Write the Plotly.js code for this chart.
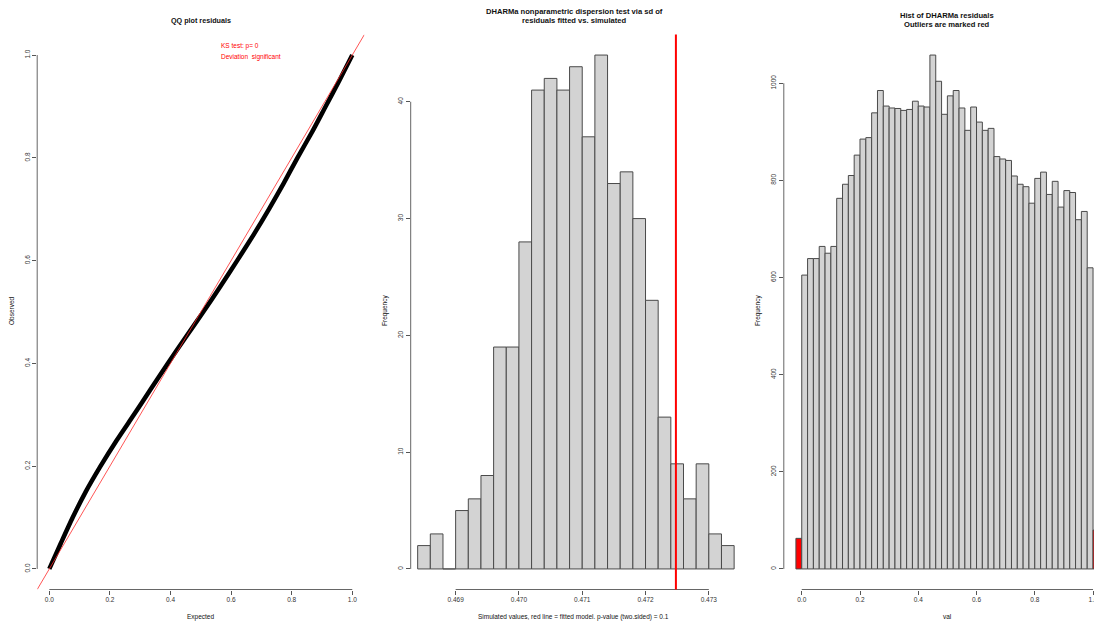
<!DOCTYPE html>
<html>
<head>
<meta charset="utf-8">
<script src="https://cdn.plot.ly/plotly-3.0.1.min.js"></script>
<style>html,body{margin:0;padding:0;background:#fff;}#chart{width:1094px;height:622px;}</style>
</head>
<body>
<div id="chart"></div>
<script>
// ---------- DATA ----------
// Panel 1: QQ plot residuals (expected vs observed uniform quantiles)
const qqExpected = [0, 0.038, 0.077, 0.120, 0.169, 0.222, 0.279, 0.335, 0.391, 0.449, 0.508, 0.565, 0.620, 0.674, 0.725, 0.773, 0.819, 0.867, 0.912, 0.957, 1.0];
const qqObserved = [0, 0.050, 0.100, 0.150, 0.200, 0.250, 0.300, 0.350, 0.400, 0.450, 0.500, 0.550, 0.600, 0.650, 0.700, 0.750, 0.800, 0.850, 0.900, 0.950, 1.0];
const qqTicks = [0, 0.2, 0.4, 0.6, 0.8, 1.0];
const qqTickText = ['0.0', '0.2', '0.4', '0.6', '0.8', '1.0'];
const qqRange = [-0.04, 1.04];

// Panel 2: dispersion test, histogram of simulated sd values
const dispEdges = [0.4684, 0.4686, 0.4688, 0.4690, 0.4692, 0.4694, 0.4696, 0.4698, 0.4700, 0.4702,
                   0.4704, 0.4706, 0.4708, 0.4710, 0.4712, 0.4714, 0.4716, 0.4718, 0.4720, 0.4722,
                   0.4724, 0.4726, 0.4728, 0.4730, 0.4732, 0.4734];
const dispCounts = [2, 3, 0, 5, 6, 8, 19, 19, 28, 41, 42, 41, 43, 37, 44, 33, 34, 30, 23, 13, 9, 6, 9, 3, 2];
const dispObserved = 0.47248;
const dispXTicks = [0.469, 0.470, 0.471, 0.472, 0.473];
const dispXTickText = ['0.469', '0.470', '0.471', '0.472', '0.473'];
const dispYTicks = [0, 10, 20, 30, 40];
const dispXRange = [0.46829, 0.47354];
const dispYRange = [-1.76, 45.76];

// Panel 3: histogram of DHARMa residuals (first and last bins = outliers)
const resEdges = [-0.02, 0.00, 0.02, 0.04, 0.06, 0.08, 0.10, 0.12, 0.14, 0.16, 0.18, 0.20, 0.22, 0.24,
                  0.26, 0.28, 0.30, 0.32, 0.34, 0.36, 0.38, 0.40, 0.42, 0.44, 0.46, 0.48, 0.50, 0.52,
                  0.54, 0.56, 0.58, 0.60, 0.62, 0.64, 0.66, 0.68, 0.70, 0.72, 0.74, 0.76, 0.78, 0.80,
                  0.82, 0.84, 0.86, 0.88, 0.90, 0.92, 0.94, 0.96, 0.98, 1.00, 1.02];
const resCounts = [63,
  605, 639, 639, 664, 650, 664, 763, 792, 810, 852,
  885, 888, 939, 985, 953, 949, 948, 944, 946, 963,
  953, 951, 1058, 1004, 936, 974, 985, 949, 903, 951,
  920, 903, 907, 849, 844, 841, 809, 792, 787, 753,
  804, 817, 771, 798, 745, 779, 775, 719, 736, 620,
  80];
const resXTicks = [0, 0.2, 0.4, 0.6, 0.8, 1.0];
const resXTickText = ['0.0', '0.2', '0.4', '0.6', '0.8', '1.0'];
const resYTicks = [0, 200, 400, 600, 800, 1000];
const resXRange = [-0.0616, 1.0033];
const resYRange = [-42.3, 1100.3];

// ---------- LAYOUT HELPERS ----------
const W = 1094, H = 622;
const px = x => x / W;
const py = y => 1 - y / H;
const FONT = 'Liberation Sans, Arial, Helvetica, sans-serif';
const yDom = [py(589.5), py(34.5)];

const centers = e => e.slice(0, -1).map((v, i) => (v + e[i + 1]) / 2);
const widths = e => e.slice(0, -1).map((v, i) => e[i + 1] - v);

const axisBase = {
  showgrid: false, zeroline: false, showline: false,
  ticks: 'outside', ticklen: 4, tickwidth: 1, tickcolor: '#555',
  tickfont: {family: FONT, size: 6.5, color: '#333'},
  ticklabeloverflow: 'allow',
  fixedrange: true
};

const traces = [
  {
    type: 'scatter', mode: 'lines', x: qqExpected, y: qqObserved,
    line: {color: '#000', width: 4.5, shape: 'spline', smoothing: 0.6},
    xaxis: 'x', yaxis: 'y', hoverinfo: 'skip', showlegend: false
  },
  {
    type: 'scatter', mode: 'lines', x: qqRange, y: qqRange,
    line: {color: '#ff2a2a', width: 0.8},
    xaxis: 'x', yaxis: 'y', hoverinfo: 'skip', showlegend: false
  },
  {
    type: 'bar', x: centers(dispEdges), y: dispCounts, width: widths(dispEdges),
    marker: {color: '#d3d3d3', line: {color: '#4a4a4a', width: 1}},
    xaxis: 'x2', yaxis: 'y2', hoverinfo: 'skip', showlegend: false
  },
  {
    type: 'bar', x: centers(resEdges), y: resCounts, width: widths(resEdges),
    marker: {
      color: resCounts.map((v, i) => (i === 0 || i === resCounts.length - 1) ? '#ff0000' : '#d3d3d3'),
      line: {color: '#4a4a4a', width: 1}
    },
    xaxis: 'x3', yaxis: 'y3', hoverinfo: 'skip', showlegend: false
  }
];

// R-style axis lines spanning only the tick range
const axLine = (xref, yref, x0, x1, y0, y1) => ({
  type: 'line', xref: xref, yref: yref, x0: x0, x1: x1, y0: y0, y1: y1,
  line: {color: '#666', width: 1}, layer: 'above'
});
const first = a => a[0], last = a => a[a.length - 1];

const shapes = [
  axLine('x', 'y domain', first(qqTicks), last(qqTicks), 0, 0),
  axLine('x domain', 'y', 0, 0, first(qqTicks), last(qqTicks)),
  axLine('x2', 'y2 domain', first(dispXTicks), last(dispXTicks), 0, 0),
  axLine('x2 domain', 'y2', 0, 0, first(dispYTicks), last(dispYTicks)),
  axLine('x3', 'y3 domain', first(resXTicks), last(resXTicks), 0, 0),
  axLine('x3 domain', 'y3', 0, 0, first(resYTicks), last(resYTicks)),
  {type: 'line', xref: 'x2', yref: 'y2 domain', x0: dispObserved, x1: dispObserved, y0: 0, y1: 1,
   line: {color: '#ff0000', width: 2}, layer: 'above'}
];

const txt = (text, x, y, opts) => Object.assign({
  text: text, xref: 'paper', yref: 'paper', x: px(x), y: py(y),
  xanchor: 'center', yanchor: 'middle', showarrow: false,
  font: {family: FONT, size: 6.5, color: '#111'}
}, opts || {});

const annotations = [
  // titles
  txt('<b>QQ plot residuals</b>', 200.8, 20, {font: {family: FONT, size: 7.2, color: '#111'}}),
  txt('<b>DHARMa nonparametric dispersion test via sd of</b>', 574, 11.7, {font: {family: FONT, size: 7.6, color: '#111'}}),
  txt('<b>residuals fitted vs. simulated</b>', 574, 20.3, {font: {family: FONT, size: 7.6, color: '#111'}}),
  txt('<b>Hist of DHARMa residuals</b>', 947, 15.7, {font: {family: FONT, size: 7.6, color: '#111'}}),
  txt('<b>Outliers are marked red</b>', 947, 24.3, {font: {family: FONT, size: 7.6, color: '#111'}}),
  // KS test legend
  txt('KS test: p= 0', 219.3, 45.7, {xanchor: 'left', font: {family: FONT, size: 6.5, color: '#ff0000'}}),
  txt('Deviation  significant', 219.3, 57.3, {xanchor: 'left', font: {family: FONT, size: 6.5, color: '#ff0000'}}),
  // axis titles
  txt('Expected', 200.8, 616.7),
  txt('Observed', 11, 311, {textangle: -90}),
  txt('Simulated values, red line = fitted model. p-value (two.sided) = 0.1', 573.3, 616.7),
  txt('Frequency', 385, 311, {textangle: -90}),
  txt('val', 947.7, 616.7),
  txt('Frequency', 758, 311, {textangle: -90})
];

const layout = {
  width: W, height: H,
  margin: {l: 0, r: 0, t: 0, b: 0, pad: 0},
  paper_bgcolor: '#fff', plot_bgcolor: '#fff',
  showlegend: false,
  font: {family: FONT, size: 6.5, color: '#333'},
  xaxis: Object.assign({}, axisBase, {domain: [px(37.2), px(364.4)], range: qqRange, tickvals: qqTicks, ticktext: qqTickText, anchor: 'y'}),
  yaxis: Object.assign({}, axisBase, {domain: yDom, range: qqRange, tickvals: qqTicks, ticktext: qqTickText, tickangle: -90, anchor: 'x'}),
  xaxis2: Object.assign({}, axisBase, {domain: [px(410.7), px(743)], range: dispXRange, tickvals: dispXTicks, ticktext: dispXTickText, anchor: 'y2'}),
  yaxis2: Object.assign({}, axisBase, {domain: yDom, range: dispYRange, tickvals: dispYTicks, tickangle: -90, anchor: 'x2'}),
  xaxis3: Object.assign({}, axisBase, {domain: [px(783.8), 1], range: resXRange, tickvals: resXTicks, ticktext: resXTickText, anchor: 'y3'}),
  yaxis3: Object.assign({}, axisBase, {domain: yDom, range: resYRange, tickvals: resYTicks, tickangle: -90, anchor: 'x3'}),
  shapes: shapes,
  annotations: annotations
};

Plotly.newPlot('chart', traces, layout, {displayModeBar: false, staticPlot: true});
</script>
</body>
</html>
